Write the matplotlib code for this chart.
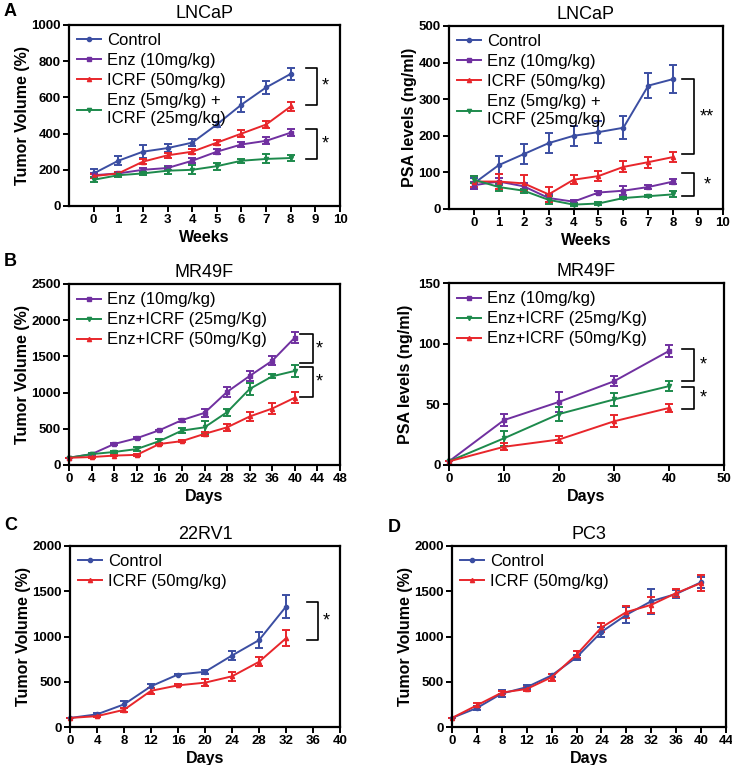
import numpy as np
import matplotlib.pyplot as plt
from matplotlib.lines import Line2D

plt.rcParams['font.family'] = ['Liberation Sans', 'DejaVu Sans']
plt.rcParams['font.weight'] = 'bold'

# colours
BLUE = '#3b4ea2'
PURPLE = '#7030a0'
RED = '#e8262b'
GREEN = '#1d8a4c'

# ---- Panel A: LNCaP tumour volume (weeks) ----
weeks = [0, 1, 2, 3, 4, 5, 6, 7, 8]
a_ctrl = [180, 250, 300, 320, 350, 450, 560, 655, 730]
a_ctrl_err = [25, 25, 35, 20, 20, 15, 40, 35, 35]
a_enz = [170, 180, 200, 210, 250, 300, 340, 360, 405]
a_enz_err = [10, 10, 10, 10, 15, 15, 15, 20, 20]
a_icrf = [165, 180, 245, 280, 300, 350, 400, 450, 550]
a_icrf_err = [10, 10, 15, 15, 15, 15, 20, 20, 25]
a_combo = [145, 170, 180, 195, 200, 220, 250, 260, 265]
a_combo_err = [15, 10, 10, 20, 25, 20, 10, 25, 15]

# ---- Panel A: LNCaP PSA ----
p_ctrl = [70, 120, 150, 180, 200, 210, 222, 337, 355]
p_ctrl_err = [15, 25, 28, 28, 28, 30, 32, 35, 38]
p_enz = [65, 75, 62, 30, 20, 45, 50, 60, 75]
p_enz_err = [10, 10, 10, 10, 5, 5, 12, 5, 8]
p_icrf = [75, 75, 70, 40, 80, 90, 115, 128, 142]
p_icrf_err = [15, 20, 22, 20, 12, 13, 15, 15, 14]
p_combo = [80, 60, 50, 25, 12, 15, 30, 35, 40]
p_combo_err = [10, 10, 5, 10, 5, 3, 3, 3, 8]

# ---- Panel B: MR49F tumour volume ----
days_b = [0, 4, 8, 12, 16, 20, 24, 28, 32, 36, 40]
b_enz = [100, 150, 290, 370, 480, 620, 720, 1010, 1230, 1440, 1760]
b_enz_err = [0, 0, 10, 10, 10, 20, 60, 70, 70, 60, 80]
b_icrf25 = [100, 150, 180, 220, 330, 475, 520, 730, 1050, 1225, 1300]
b_icrf25_err = [0, 10, 20, 30, 30, 30, 90, 50, 80, 30, 80]
b_icrf50 = [100, 110, 130, 140, 290, 330, 430, 520, 670, 780, 930]
b_icrf50_err = [0, 10, 10, 10, 10, 10, 30, 50, 60, 70, 80]

# ---- Panel B: MR49F PSA ----
days_bp = [0, 10, 20, 30, 40]
bp_enz = [3, 37, 52, 69, 94]
bp_enz_err = [0, 5, 8, 4, 5]
bp_icrf25 = [3, 22, 42, 54, 65]
bp_icrf25_err = [0, 6, 6, 5, 4]
bp_icrf50 = [3, 15, 21, 36, 47]
bp_icrf50_err = [0, 3, 3, 5, 3]

# ---- Panel C: 22RV1 ----
days_c = [0, 4, 8, 12, 16, 20, 24, 28, 32]
c_ctrl = [100, 140, 250, 450, 580, 610, 790, 960, 1330]
c_ctrl_err = [0, 10, 40, 20, 10, 20, 50, 90, 130]
c_icrf = [100, 120, 190, 400, 460, 490, 560, 720, 980]
c_icrf_err = [0, 10, 20, 30, 10, 40, 50, 50, 90]

# ---- Panel D: PC3 ----
days_d = [0, 4, 8, 12, 16, 20, 24, 28, 32, 36, 40]
d_ctrl = [100, 210, 370, 440, 570, 770, 1050, 1240, 1390, 1470, 1600]
d_ctrl_err = [0, 20, 40, 20, 20, 30, 50, 90, 140, 40, 60]
d_icrf = [100, 240, 380, 420, 550, 800, 1100, 1270, 1350, 1480, 1590]
d_icrf_err = [0, 20, 20, 20, 40, 40, 50, 70, 90, 40, 90]

W, H = 732, 765
fig = plt.figure(figsize=(W / 100, H / 100), dpi=100)


def make_ax(left, right, top, bottom):
    ax = fig.add_axes([left / W, 1 - bottom / H, (right - left) / W, (bottom - top) / H])
    for s in ax.spines.values():
        s.set_linewidth(1.6)
    ax.tick_params(direction='out', length=4, width=1.4, labelsize=9.5, pad=2)
    return ax


def series(ax, x, y, err, color, marker, label):
    ax.errorbar(x, y, yerr=err, color=color, marker=marker, markersize=3,
                linewidth=1.4, elinewidth=1.4, capsize=3, capthick=1.4,
                clip_on=False)
    ax.legend_handles_ = getattr(ax, 'legend_handles_', [])
    ax.legend_handles_.append(Line2D([], [], color=color, marker=marker, markersize=3,
                                     linewidth=1.4, label=label))


def bracket(ax, x0, x1, ytop, ybot, xstar, text):
    ax.plot([x0, x1, x1, x0], [ytop, ytop, ybot, ybot], color='black', lw=1.2, clip_on=False)
    ax.text(xstar, (ytop + ybot) / 2, text, ha='center', va='center', fontsize=13,
            fontweight='normal')


def finish(ax, title, xlabel, ylabel, ypad=1):
    ax.set_title(title, fontsize=13, fontweight='normal', pad=5)
    ax.set_xlabel(xlabel, fontsize=11.5, fontweight='bold', labelpad=3)
    ax.set_ylabel(ylabel, fontsize=11.5, fontweight='bold', labelpad=ypad)
    ax.legend(handles=ax.legend_handles_, loc='upper left', frameon=False,
              prop={'size': 12, 'weight': 'normal'}, handlelength=1.4,
              handletextpad=0.4, labelspacing=0.3, borderaxespad=0.1,
              bbox_to_anchor=(0.0, 1.0))


# A left
ax = make_ax(69, 340, 25, 206)
series(ax, weeks, a_ctrl, a_ctrl_err, BLUE, 'o', 'Control')
series(ax, weeks, a_enz, a_enz_err, PURPLE, 's', 'Enz (10mg/kg)')
series(ax, weeks, a_icrf, a_icrf_err, RED, '^', 'ICRF (50mg/kg)')
series(ax, weeks, a_combo, a_combo_err, GREEN, 'v', 'Enz (5mg/kg) +\nICRF (25mg/kg)')
ax.set_xlim(-1, 10)
ax.set_ylim(0, 1000)
ax.set_xticks(range(0, 11))
ax.set_yticks(range(0, 1001, 200))
bracket(ax, 8.6, 9.05, 764, 557, 9.4, '*')
bracket(ax, 8.6, 9.05, 428, 262, 9.4, '*')
finish(ax, 'LNCaP', 'Weeks', 'Tumor Volume (%)')

# A right
ax = make_ax(449, 723, 26, 209)
series(ax, weeks, p_ctrl, p_ctrl_err, BLUE, 'o', 'Control')
series(ax, weeks, p_enz, p_enz_err, PURPLE, 's', 'Enz (10mg/kg)')
series(ax, weeks, p_icrf, p_icrf_err, RED, '^', 'ICRF (50mg/kg)')
series(ax, weeks, p_combo, p_combo_err, GREEN, 'v', 'Enz (5mg/kg) +\nICRF (25mg/kg)')
ax.set_xlim(-1, 10)
ax.set_ylim(0, 500)
ax.set_xticks(range(0, 11))
ax.set_yticks(range(0, 501, 100))
bracket(ax, 8.35, 8.84, 355, 150, 9.37, '**')
bracket(ax, 8.35, 8.84, 97, 35, 9.37, '*')
finish(ax, 'LNCaP', 'Weeks', 'PSA levels (ng/ml)')

# B left
ax = make_ax(69, 340, 284, 465)
series(ax, days_b, b_enz, b_enz_err, PURPLE, 's', 'Enz (10mg/kg)')
series(ax, days_b, b_icrf25, b_icrf25_err, GREEN, 'v', 'Enz+ICRF (25mg/Kg)')
series(ax, days_b, b_icrf50, b_icrf50_err, RED, '^', 'Enz+ICRF (50mg/Kg)')
ax.set_xlim(0, 48)
ax.set_ylim(0, 2500)
ax.set_xticks(range(0, 49, 4))
ax.set_yticks(range(0, 2501, 500))
bracket(ax, 40.9, 43.2, 1808, 1407, 44.4, '*')
bracket(ax, 40.9, 43.2, 1351, 946, 44.4, '*')
finish(ax, 'MR49F', 'Days', 'Tumor Volume (%)')

# B right
ax = make_ax(449, 724, 283, 465)
series(ax, days_bp, bp_enz, bp_enz_err, PURPLE, 's', 'Enz (10mg/kg)')
series(ax, days_bp, bp_icrf25, bp_icrf25_err, GREEN, 'v', 'Enz+ICRF (25mg/Kg)')
series(ax, days_bp, bp_icrf50, bp_icrf50_err, RED, '^', 'Enz+ICRF (50mg/Kg)')
ax.set_xlim(0, 50)
ax.set_ylim(0, 150)
ax.set_xticks(range(0, 51, 10))
ax.set_yticks(range(0, 151, 50))
bracket(ax, 42.3, 44.6, 95.8, 69.6, 46.2, '*')
bracket(ax, 42.3, 44.6, 64.1, 46.2, 46.2, '*')
finish(ax, 'MR49F', 'Days', 'PSA levels (ng/ml)', ypad=4)

# C
ax = make_ax(70, 340, 546, 727)
series(ax, days_c, c_ctrl, c_ctrl_err, BLUE, 'o', 'Control')
series(ax, days_c, c_icrf, c_icrf_err, RED, '^', 'ICRF (50mg/kg)')
ax.set_xlim(0, 40)
ax.set_ylim(0, 2000)
ax.set_xticks(range(0, 41, 4))
ax.set_yticks(range(0, 2001, 500))
bracket(ax, 35.1, 36.8, 1381, 965, 37.9, '*')
finish(ax, '22RV1', 'Days', 'Tumor Volume (%)')

# D
ax = make_ax(452, 726, 546, 727)
series(ax, days_d, d_ctrl, d_ctrl_err, BLUE, 'o', 'Control')
series(ax, days_d, d_icrf, d_icrf_err, RED, '^', 'ICRF (50mg/kg)')
ax.set_xlim(0, 44)
ax.set_ylim(0, 2000)
ax.set_xticks(range(0, 45, 4))
ax.set_yticks(range(0, 2001, 500))
finish(ax, 'PC3', 'Days', 'Tumor Volume (%)')

# panel letters
for letter, px, py in [('A', 4, 12), ('B', 4, 262), ('C', 4, 526), ('D', 388, 528)]:
    fig.text(px / W, 1 - py / H, letter, fontsize=13, fontweight='bold', va='center', ha='left')

fig.savefig('out.png', dpi=100)
